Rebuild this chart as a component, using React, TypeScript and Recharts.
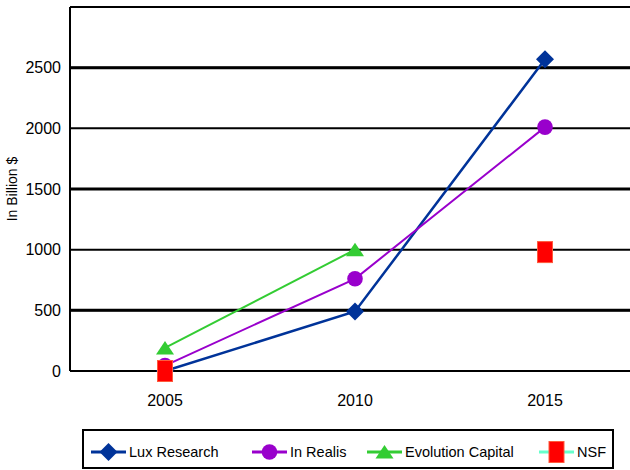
import React from 'react';
import { LineChart, Line, XAxis, YAxis, CartesianGrid, ReferenceLine } from 'recharts';

const years = ['2005', '2010', '2015'];
const luxResearch = [0, 490, 2570];
const inRealis = [45, 760, 2010];
const evolutionCapital: (number | null)[] = [190, 1000, null];
const nsf: (number | null)[] = [0, null, 980];
const yTicks = [0, 500, 1000, 1500, 2000, 2500];

const data = years.map((year, i) => ({
  year,
  lux: luxResearch[i],
  realis: inRealis[i],
  evolution: evolutionCapital[i],
  nsf: nsf[i],
}));

type Shape = 'diamond' | 'circle' | 'triangle' | 'square';

// draws a marker centered on cx, cy
const marker = (shape: Shape, cx: number, cy: number, fill: string, key?: any) => {
  if (shape === 'diamond') {
    return <path key={key} d={`M${cx},${cy - 9} L${cx + 9},${cy} L${cx},${cy + 9} L${cx - 9},${cy} Z`} fill={fill} />;
  }
  if (shape === 'circle') {
    return <circle key={key} cx={cx} cy={cy} r={7.8} fill={fill} />;
  }
  if (shape === 'triangle') {
    return <path key={key} d={`M${cx},${cy - 7} L${cx + 9},${cy + 6.5} L${cx - 9},${cy + 6.5} Z`} fill={fill} />;
  }
  return <rect key={key} x={cx - 7.5} y={cy - 10.5} width={15} height={21} fill={fill} stroke="#ff5a3c" strokeWidth={1} />;
};

const series = [
  { key: 'lux', name: 'Lux Research', color: '#003399', line: '#003399', shape: 'diamond' as Shape, width: 2.5 },
  { key: 'realis', name: 'In Realis', color: '#9900cc', line: '#9900cc', shape: 'circle' as Shape, width: 2 },
  { key: 'evolution', name: 'Evolution Capital', color: '#33cc33', line: '#33cc33', shape: 'triangle' as Shape, width: 2 },
  { key: 'nsf', name: 'NSF', color: '#ff0000', line: '#66ffcc', shape: 'square' as Shape, width: 2 },
];

const legendWidths = [161, 115, 172, 70];

const App: React.FC = () => {
  return (
    <div
      style={{
        position: 'absolute',
        left: 0,
        top: 0,
        width: 630,
        height: 470,
        overflow: 'hidden',
        background: '#fff',
        fontFamily: '"Liberation Sans", Arial, sans-serif',
      }}
    >
      <LineChart width={660} height={420} data={data} margin={{ top: 7, right: 20, left: 0, bottom: 20 }}>
        <CartesianGrid horizontal vertical={false} stroke="#000" strokeWidth={2} />
        <ReferenceLine y={3000} stroke="#000" strokeWidth={2} />
        <ReferenceLine y={2500} stroke="#000" strokeWidth={3} />
        <ReferenceLine y={1500} stroke="#000" strokeWidth={3} />
        <ReferenceLine y={500} stroke="#000" strokeWidth={3} />
        <XAxis
          dataKey="year"
          scale="band"
          axisLine={{ stroke: '#000', strokeWidth: 2 }}
          tickLine={false}
          tickSize={6}
          tickMargin={18}
          height={29}
          tick={{ fontSize: 16, fill: '#000' }}
        />
        <YAxis
          domain={[0, 3000]}
          ticks={yTicks}
          axisLine={{ stroke: '#000', strokeWidth: 2 }}
          tickLine={false}
          tickSize={4}
          tickMargin={5}
          width={70}
          tick={{ fontSize: 16, fill: '#000' }}
          label={{
            value: 'In Billion $',
            angle: -90,
            position: 'insideLeft',
            offset: 12,
            fontSize: 14,
            fill: '#000',
            style: { textAnchor: 'middle' },
          }}
        />
        {series.map((s) => (
          <Line
            key={s.key}
            dataKey={s.key}
            name={s.name}
            stroke={s.line}
            strokeWidth={s.width}
            isAnimationActive={false}
            connectNulls={false}
            dot={(p: any) => (p.cy == null ? <g key={p.key ?? p.index} /> : marker(s.shape, p.cx, p.cy, s.color, p.key ?? p.index))}
            activeDot={false}
          />
        ))}
      </LineChart>
      <div
        style={{
          position: 'absolute',
          left: 82,
          top: 429,
          width: 532,
          height: 40,
          boxSizing: 'border-box',
          border: '2px solid #000',
          display: 'flex',
          alignItems: 'center',
          paddingLeft: 7,
          paddingTop: 6,
        }}
      >
        {series.map((s, i) => (
          <div key={s.key} style={{ width: legendWidths[i], display: 'flex', alignItems: 'center' }}>
            <svg width={35} height={24}>
              <line x1={0} x2={35} y1={12} y2={12} stroke={s.line} strokeWidth={3} />
              {marker(s.shape, 17.5, 12, s.color)}
            </svg>
            <span style={{ fontSize: 14.5, color: '#000', marginLeft: 3 }}>{s.name}</span>
          </div>
        ))}
      </div>
    </div>
  );
};

export default App;
